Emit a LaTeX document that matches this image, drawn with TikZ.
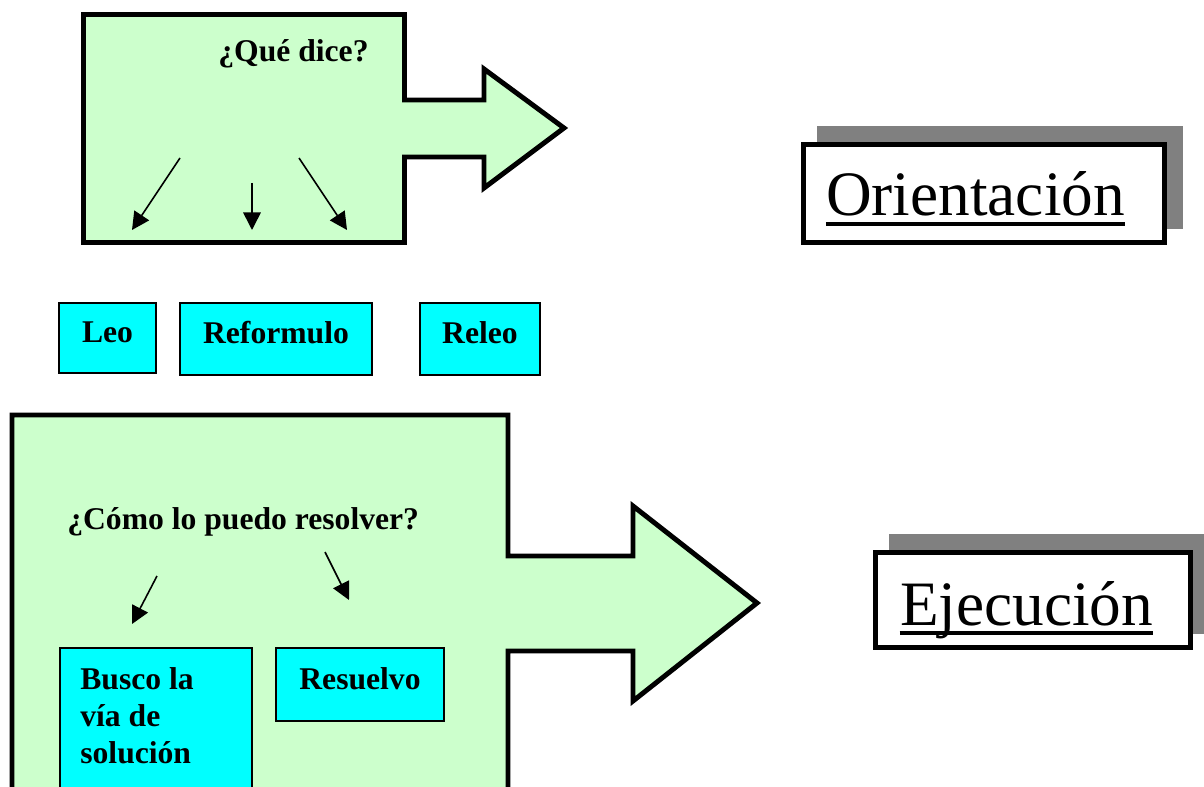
\documentclass[tikz,border=0pt]{standalone}
\usepackage{fontspec}
\setmainfont{Liberation Serif}
\usetikzlibrary{arrows.meta,shadows}
\definecolor{palegreen}{RGB}{204,255,204}
\definecolor{boxcyan}{RGB}{0,255,255}
\definecolor{shadowgray}{RGB}{128,128,128}

\begin{document}
\begin{tikzpicture}[
	x=0.02cm, y=-0.02cm,
	bigarrow/.style={ draw, line width=2.8pt, fill=palegreen, line join=miter },
	cyanbox/.style={ draw, line width=1.3pt, fill=boxcyan, inner sep=0pt, text height=0.66em, text depth=0.1em, font=\fontsize{18}{21}\selectfont\bfseries },
	question/.style={ inner sep=0pt, font=\fontsize{18}{21}\selectfont\bfseries },
	titlebox/.style={ draw, line width=2.8pt, fill=white, inner sep=0pt, drop shadow={ shadow xshift=0.32cm, shadow yshift=0.32cm, fill=shadowgray, draw=shadowgray, opacity=1 } },
	titletext/.style={ inner sep=0pt, font=\fontsize{36}{43}\selectfont },
	underl/.style={ line width=2.2pt },
	pointer/.style={ line width=0.9pt, -{Triangle[length=10pt,width=10pt]} }
]

\clip (0,0) rectangle (1204,787);

% orientacion
\draw[bigarrow] (83.5,14.5) -- (404.5,14.5) -- (404.5,100) -- (484,100) -- (484,69)
  -- (564,128) -- (484,188) -- (484,157) -- (404.5,157) -- (404.5,242.5) -- (83.5,242.5) -- cycle;
\node[question, anchor=base west] (quedice) at (218,62) {¿Qué dice?};
\coordinate (q1s) at (180,158);
\coordinate (q1e) at (132,230);
\coordinate (q2s) at (252,183);
\coordinate (q2e) at (252,230);
\coordinate (q3s) at (299,158);
\coordinate (q3e) at (347,230);
\draw[pointer] (q1s) -- (q1e);
\draw[pointer] (q2s) -- (q2e);
\draw[pointer] (q3s) -- (q3e);

\node[cyanbox, minimum width=1.94cm, minimum height=1.4cm] (leo) at (107.5,338) {Leo};
\node[cyanbox, minimum width=3.84cm, minimum height=1.44cm] (reformulo) at (276,339) {Reformulo};
\node[cyanbox, minimum width=2.4cm, minimum height=1.44cm] (releo) at (480,339) {Releo};

\node[titlebox, minimum width=7.22cm, minimum height=1.96cm] (orient) at (984,193.5) {};
\node[titletext, anchor=base] (orienttxt) at (975.5,216) {Orientación};
\draw[underl] ([yshift=-4.5pt]orienttxt.base west) -- ([yshift=-4.5pt]orienttxt.base east);

% ejecucion
\draw[bigarrow] (12,415) -- (508,415) -- (508,556) -- (633,556) -- (633,506)
  -- (757,603) -- (633,701) -- (633,651) -- (508,651) -- (508,800) -- (12,800) -- cycle;
\node[question, anchor=base west] (comolo) at (67,529) {¿Cómo lo puedo resolver?};
\coordinate (c1s) at (157,576);
\coordinate (c1e) at (132,624);
\coordinate (c2s) at (325,552);
\coordinate (c2e) at (349,600);
\draw[pointer] (c1s) -- (c1e);
\draw[pointer] (c2s) -- (c2e);

\node[cyanbox, minimum width=3.84cm, minimum height=3.04cm] (busco) at (156,724) {};
\node[question, anchor=north west, align=left] (buscotxt) at (80,667.5) {Busco la\\vía de\\solución};
\node[cyanbox, minimum width=3.36cm, minimum height=1.46cm] (resuelvo) at (360,684.5) {Resuelvo};

\node[titlebox, minimum width=6.3cm, minimum height=1.9cm] (ejec) at (1033,600) {};
\node[titletext, anchor=base] (ejectxt) at (1026.5,625) {Ejecución};
\draw[underl] ([yshift=-4.5pt]ejectxt.base west) -- ([yshift=-4.5pt]ejectxt.base east);

\end{tikzpicture}
\end{document}
